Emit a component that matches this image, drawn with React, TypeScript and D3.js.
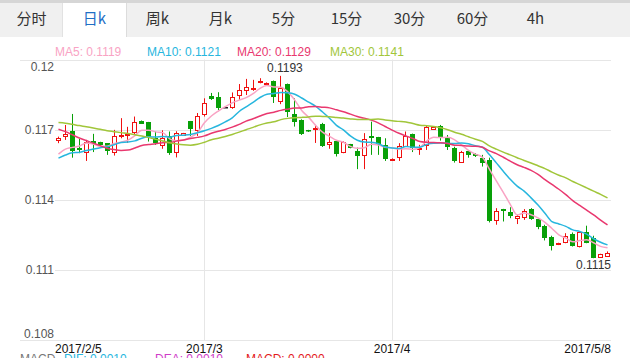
import React from 'react';
import * as d3 from 'd3';

const tabs = ["分时", "日k", "周k", "月k", "5分", "15分", "30分", "60分", "4h"];
const activeTab = 1;

// closes before the first visible candle (needed for the moving averages)
const priorCloses = [0.11750,0.11763,0.11776,0.11793,0.11801,0.11810,0.11784,0.11793,0.11801,0.11793,0.11891,0.11878,0.11887,0.11870,0.11861,0.11848,0.11827,0.11793,0.11750,0.11652,0.11549,0.11515,0.11592,0.11571,0.11577,0.11575,0.11571,0.11583,0.11583];

const opens = [0.11655,0.11672,0.11692,0.11621,0.11606,0.11652,0.11646,0.11642,0.11604,0.11673,
0.11677,0.11689,0.11737,0.11733,0.11666,0.11635,0.11671,0.11604,0.11679,0.11737,
0.11699,0.11766,0.11845,0.11839,0.11797,0.11798,0.11848,0.11870,0.11874,0.11906,
0.11895,0.11908,0.11823,0.11895,0.11766,0.11742,0.11698,0.11703,0.11722,0.11638,
0.11652,0.11604,0.11638,0.11609,0.11592,0.11673,0.11668,0.11635,0.11572,0.11582,
0.11632,0.11682,0.11616,0.11635,0.11704,0.11716,0.11668,0.11621,0.11563,0.11609,
0.11596,0.11580,0.11570,0.11314,0.11360,0.11347,0.11321,0.11326,0.11360,0.11317,
0.11289,0.11240,0.11209,0.11219,0.11253,0.11203,0.11260,0.11236,0.11157,0.11160];

const highs = [0.11670,0.11720,0.11767,0.11660,0.11656,0.11682,0.11648,0.11642,0.11699,0.11749,
0.11712,0.11756,0.11739,0.11733,0.11692,0.11697,0.11692,0.11693,0.11686,0.11737,
0.11771,0.11834,0.11857,0.11860,0.11799,0.11859,0.11895,0.11917,0.11913,0.11920,
0.11902,0.11910,0.11930,0.11897,0.11834,0.11744,0.11699,0.11720,0.11729,0.11685,
0.11654,0.11650,0.11639,0.11623,0.11685,0.11734,0.11669,0.11663,0.11577,0.11642,
0.11692,0.11683,0.11635,0.11716,0.11713,0.11720,0.11677,0.11627,0.11609,0.11610,
0.11600,0.11592,0.11580,0.11364,0.11361,0.11368,0.11336,0.11360,0.11364,0.11318,
0.11293,0.11246,0.11216,0.11257,0.11260,0.11264,0.11289,0.11246,0.11169,0.11179];

const lows = [0.11642,0.11656,0.11580,0.11599,0.11566,0.11604,0.11630,0.11592,0.11589,0.11663,
0.11643,0.11677,0.11724,0.11649,0.11635,0.11618,0.11592,0.11581,0.11677,0.11673,
0.11673,0.11756,0.11827,0.11784,0.11795,0.11789,0.11827,0.11848,0.11866,0.11898,
0.11893,0.11814,0.11809,0.11754,0.11713,0.11677,0.11690,0.11643,0.11626,0.11618,
0.11585,0.11599,0.11620,0.11531,0.11531,0.11592,0.11592,0.11566,0.11568,0.11566,
0.11627,0.11604,0.11592,0.11613,0.11702,0.11653,0.11613,0.11559,0.11559,0.11580,
0.11583,0.11542,0.11303,0.11293,0.11307,0.11321,0.11296,0.11314,0.11314,0.11274,
0.11226,0.11183,0.11206,0.11214,0.11200,0.11196,0.11214,0.11150,0.11152,0.11155];

const closes = [0.11663,0.11682,0.11609,0.11613,0.11649,0.11640,0.11635,0.11609,0.11672,0.11677,
0.11682,0.11732,0.11726,0.11669,0.11643,0.11666,0.11599,0.11685,0.11685,0.11704,
0.11759,0.11813,0.11830,0.11792,0.11797,0.11841,0.11870,0.11884,0.11878,0.11910,
0.11900,0.11841,0.11880,0.11776,0.11734,0.11680,0.11692,0.11709,0.11630,0.11646,
0.11595,0.11649,0.11621,0.11589,0.11660,0.11666,0.11635,0.11575,0.11575,0.11632,
0.11674,0.11621,0.11621,0.11710,0.11710,0.11670,0.11625,0.11566,0.11604,0.11592,
0.11589,0.11557,0.11311,0.11353,0.11350,0.11331,0.11331,0.11350,0.11317,0.11283,
0.11236,0.11200,0.11215,0.11246,0.11203,0.11262,0.11217,0.11152,0.11168,0.11172];

const yTicks = [0.12, 0.117, 0.114, 0.111, 0.108];
const xTickIndex = [0, 21, 48, 79];
const xTickLabels = ["2017/2/5", "2017/3", "2017/4", "2017/5/8"];
const maPeriods = [5, 10, 20, 30];
const macdNames = ["MACD", "DIF: 0.0010", "DEA: 0.0010", "MACD: 0.0000"];

const MA_COLORS = ["#f9a3c4", "#27b6de", "#e9386f", "#a1c63a"];
const MACD_COLORS = ["#777", "#27b6de", "#d03cc8", "#e3191b"];
const UP = "#f01010";
const DOWN = "#08a008";
const NUM_FONT = "'Liberation Sans', Arial, sans-serif";
const CJK_FONT = "'Noto Sans CJK SC', 'Microsoft YaHei', sans-serif";

export default function App() {
  const W = 630, H = 358;
  const left = 55, right = 611, top = 59.5, bottom = 340;
  const n = closes.length;
  const x = d3.scaleBand<number>().domain(d3.range(n)).range([left, right]).padding(0);
  const y = d3.scaleLinear().domain([0.108, 0.12]).range([bottom, top]);
  const cx = (i: number) => (x(i) as number) + x.bandwidth() / 2;

  const all = priorCloses.concat(closes);
  const off = priorCloses.length;
  const mas = maPeriods.map(p => d3.range(n).map(i => d3.mean(all.slice(off + i - p + 1, off + i + 1)) as number));
  const line = d3.line<number>().x((_, i) => cx(i)).y(v => y(v)).curve(d3.curveMonotoneX);

  const maxI = d3.maxIndex(highs);
  const minI = d3.minIndex(lows);

  const tabW = 63;
  const legendX = [55, 147, 237, 330];
  const macdX = [20, 64, 155, 246];

  return (
    <svg width={W} height={H} style={{ position: 'absolute', left: 0, top: 0, background: '#fff' }}>
      {/* tab bar */}
      <rect x={0} y={0} width={W} height={37} fill="#f0f0f0" />
      <rect x={0} y={0} width={W} height={3} fill="#d6d6d6" />
      <rect x={activeTab * tabW} y={3} width={tabW} height={34} fill="#fff" />
      <line x1={activeTab * tabW - 0.5} x2={activeTab * tabW - 0.5} y1={3} y2={37} stroke="#e2e2e2" />
      <line x1={(activeTab + 1) * tabW + 0.5} x2={(activeTab + 1) * tabW + 0.5} y1={3} y2={37} stroke="#dcdcdc" />
      {tabs.map((t, i) => (
        <text key={t} x={i * tabW + tabW / 2} y={24} textAnchor="middle" fontSize={15}
          fontFamily={CJK_FONT} fill={i === activeTab ? "#1f6fc5" : "#333"}>{t}</text>
      ))}

      {/* legend */}
      {maPeriods.map((p, k) => (
        <text key={p} x={legendX[k]} y={56} fontSize={12} fontFamily={NUM_FONT} fill={MA_COLORS[k]}>
          {`MA${p}: ${mas[k][n - 1].toFixed(4)}`}
        </text>
      ))}

      {/* grid */}
      {yTicks.map((t, k) => {
        const yy = Math.round(y(t)) + 0.5;
        const edge = k === 0 || k === yTicks.length - 1;
        return <line key={t} x1={edge ? 20 : left} x2={right} y1={yy} y2={yy} stroke="#e6e6e6" />;
      })}
      {xTickIndex.slice(1, 3).map(i => {
        const xx = Math.floor(cx(i)) + 0.5;
        return <line key={i} x1={xx} x2={xx} y1={top} y2={bottom} stroke="#e6e6e6" />;
      })}
      {yTicks.map((t, k) => {
        const yy = y(t);
        const dy = k === 0 ? 11.5 : k === yTicks.length - 1 ? -2.5 : 4;
        return <text key={t} x={54} y={yy + dy} textAnchor="end" fontSize={12} fontFamily={NUM_FONT} fill="#555">{String(t)}</text>;
      })}

      {/* candles */}
      {closes.map((c, i) => {
        const o = opens[i];
        const xc = Math.floor(cx(i));
        const yTop = Math.round(y(Math.max(o, c)));
        const yBot = Math.round(y(Math.min(o, c)));
        const color = c > o ? UP : c < o ? DOWN : "#222";
        const wick = <line x1={xc + 0.5} x2={xc + 0.5} y1={y(highs[i])} y2={y(lows[i])} stroke={color} strokeWidth={1} />;
        if (c > o) {
          return (
            <g key={i}>
              {wick}
              <rect x={xc - 1.5} y={yTop + 0.5} width={4} height={Math.max(yBot - yTop, 1)} fill="#fff" stroke={color} />
            </g>
          );
        }
        return (
          <g key={i}>
            {wick}
            <rect x={xc - 2} y={yTop} width={5} height={Math.max(yBot - yTop, 1.5)} fill={color} />
          </g>
        );
      })}

      {/* moving averages */}
      {mas.map((m, k) => (
        <path key={k} d={line(m) as string} fill="none" stroke={MA_COLORS[k]} strokeWidth={1.5} />
      ))}

      {/* extreme labels */}
      <text x={cx(maxI) + 4} y={y(highs[maxI]) - 4} textAnchor="middle" fontSize={12} fontFamily={NUM_FONT} fill="#333">
        {highs[maxI].toFixed(4)}
      </text>
      <text x={right} y={y(lows[minI]) + 11} textAnchor="end" fontSize={12} fontFamily={NUM_FONT} fill="#333">
        {lows[minI].toFixed(4)}
      </text>

      {/* x axis labels */}
      {xTickIndex.map((i, k) => {
        const anchor = k === 0 ? "start" : k === xTickIndex.length - 1 ? "end" : "middle";
        const xx = k === 0 ? left : k === xTickIndex.length - 1 ? right : cx(i);
        return <text key={i} x={xx} y={353} textAnchor={anchor} fontSize={12} fontFamily={NUM_FONT} fill="#111">{xTickLabels[k]}</text>;
      })}

      {/* MACD legend (cut off at bottom, as in the source) */}
      {macdNames.map((t, k) => (
        <text key={k} x={macdX[k]} y={363} fontSize={12} fontFamily={NUM_FONT} fill={MACD_COLORS[k]}>{t}</text>
      ))}
    </svg>
  );
}
